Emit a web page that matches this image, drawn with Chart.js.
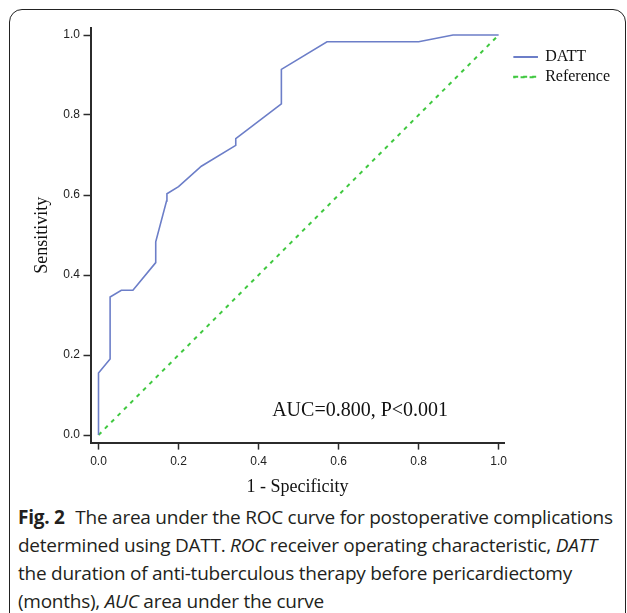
<!DOCTYPE html>
<html>
<head>
<meta charset="utf-8">
<script src="https://cdn.jsdelivr.net/npm/chart.js@4.4.1/dist/chart.umd.min.js"></script>
<style>
  html, body { margin: 0; padding: 0; background: #fff; width: 627px; height: 613px; overflow: hidden; }
  #frame { position: absolute; left: 9px; top: 9px; width: 617px; height: 700px; border: 1.5px solid #222; border-radius: 13px; box-sizing: border-box; }
  #wrap { position: absolute; left: 0; top: 0; width: 627px; height: 500px; }
  #caption { position: absolute; left: 18px; top: 503px; font-family: "Open Sans", sans-serif; font-size: 19px; line-height: 28px; color: #231f20; white-space: nowrap; letter-spacing: -0.25px; }
  #caption b { font-weight: 700; margin-right: 6px; }
</style>
</head>
<body>
<div id="frame"></div>
<div id="wrap"><canvas id="c" width="627" height="500"></canvas></div>
<div id="caption"><b>Fig. 2</b> The area under the ROC curve for postoperative complications<br>determined using DATT. <i>ROC</i> receiver operating characteristic, <i>DATT</i><br>the duration of anti-tuberculous therapy before pericardiectomy<br>(months), <i>AUC</i> area under the curve</div>
<script>
// ---- data ----
const seriesNames = ["DATT", "Reference"];
const dattFpr  = [0, 0, 0.029, 0.029, 0.057, 0.086, 0.143, 0.143, 0.170, 0.171, 0.200, 0.257, 0.343, 0.343, 0.457, 0.457, 0.571, 0.800, 0.886, 1.000];
const dattSens = [0, 0.155, 0.190, 0.345, 0.362, 0.362, 0.431, 0.483, 0.585, 0.603, 0.621, 0.672, 0.724, 0.741, 0.828, 0.914, 0.983, 0.983, 1.000, 1.000];
const refFpr  = [0, 1];
const refSens = [0, 1];
const tickValues = [0, 0.2, 0.4, 0.6, 0.8, 1.0];
const xTitle = "1 - Specificity";
const yTitle = "Sensitivity";
const aucText = "AUC=0.800, P<0.001";
const aucPos = [0.434, 0.06];

const toPts = (xs, ys) => xs.map((x, i) => ({ x: x, y: ys[i] }));

const axisColor = "#2b2b2b";
const tickFont = { family: "'Liberation Sans', Arial, sans-serif", size: 12 };
const serif = "'Liberation Serif', 'Times New Roman', serif";

const aucPlugin = {
  id: "aucText",
  afterDatasetsDraw(chart) {
    const { ctx, scales } = chart;
    ctx.save();
    ctx.font = "20px " + serif;
    ctx.fillStyle = "#111";
    ctx.textAlign = "left";
    ctx.textBaseline = "middle";
    ctx.fillText(aucText, scales.x.getPixelForValue(aucPos[0]), scales.y.getPixelForValue(aucPos[1]));
    ctx.restore();
  }
};

const setTicks = (s) => { s.ticks = tickValues.map(v => ({ value: v })); };

new Chart(document.getElementById("c"), {
  type: "scatter",
  data: {
    datasets: [
      { label: seriesNames[0], data: toPts(dattFpr, dattSens), showLine: true, borderColor: "#6c7ec8", backgroundColor: "#6c7ec8", borderWidth: 1.6, pointRadius: 0, tension: 0 },
      { label: seriesNames[1], data: toPts(refFpr, refSens), showLine: true, borderColor: "#40c840", backgroundColor: "rgba(0,0,0,0)", borderWidth: 2, borderDash: [4, 5], pointRadius: 0, tension: 0 }
    ]
  },
  options: {
    responsive: false,
    animation: false,
    layout: { padding: { left: 31.2, top: 27.8, bottom: 2.2, right: 7 } },
    plugins: {
      tooltip: { enabled: false },
      legend: {
        position: "right",
        align: "start",
        fullSize: false,
        maxWidth: 110,
        title: { display: true, text: "", font: { size: 10 }, padding: { top: 0, bottom: 5.2 } },
        labels: {
          boxWidth: 23,
          boxHeight: 0.4,
          padding: 4,
          color: "#111",
          font: { family: serif, size: 16 }
        }
      }
    },
    scales: {
      x: {
        type: "linear",
        min: -0.02, max: 1.015,
        afterBuildTicks: setTicks,
        afterFit: (s) => { s.height = 55.2; },
        border: { display: true, color: axisColor, width: 2 },
        grid: { display: true, drawOnChartArea: false, drawTicks: true, tickLength: 7, tickColor: axisColor, tickWidth: 1.5 },
        ticks: { color: "#222", font: tickFont, padding: 5, callback: (v) => Number(v).toFixed(1), maxRotation: 0 },
        title: { display: true, text: xTitle, color: "#111", font: { family: serif, size: 18 }, padding: 0 }
      },
      y: {
        type: "linear",
        min: -0.019, max: 1.018,
        afterBuildTicks: setTicks,
        afterFit: (s) => { s.width = 59.3; },
        border: { display: true, color: axisColor, width: 2 },
        grid: { display: true, drawOnChartArea: false, drawTicks: true, tickLength: 7, tickColor: axisColor, tickWidth: 1.5 },
        ticks: { color: "#222", font: tickFont, padding: 3.5, callback: (v) => Number(v).toFixed(1) },
        title: { display: true, text: yTitle, color: "#111", font: { family: serif, size: 18 }, padding: 0 }
      },
      yRight: {
        type: "linear",
        position: "right",
        display: true,
        afterFit: (s) => { s.width = 5.5; },
        border: { display: false },
        grid: { display: false, drawTicks: false },
        ticks: { display: false }
      }
    }
  },
  plugins: [aucPlugin]
});
</script>
</body>
</html>
